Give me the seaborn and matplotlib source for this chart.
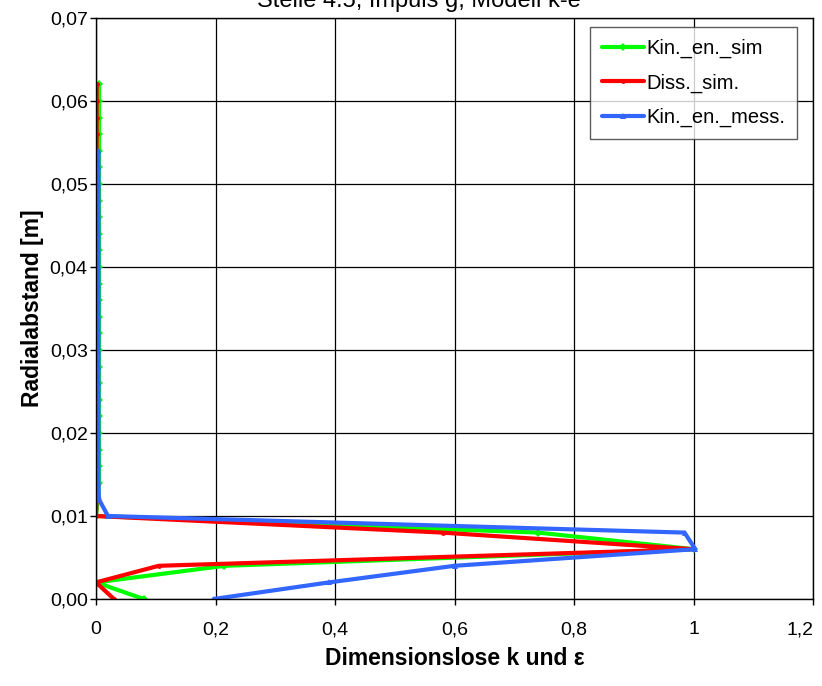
import numpy as np
import pandas as pd
import matplotlib
matplotlib.use("Agg")
import matplotlib.pyplot as plt
import seaborn as sns
from matplotlib.ticker import FuncFormatter, FixedLocator

# Radial positions [m]
r_sim = [0.000, 0.002, 0.004, 0.006, 0.008, 0.010, 0.012, 0.014, 0.016, 0.018,
         0.020, 0.022, 0.024, 0.026, 0.028, 0.030, 0.032, 0.034, 0.036, 0.038,
         0.040, 0.042, 0.044, 0.046, 0.048, 0.050, 0.052, 0.054, 0.056, 0.058,
         0.060, 0.062]
r_mess = [0.000, 0.002, 0.004, 0.006, 0.008, 0.010, 0.012, 0.014, 0.016, 0.018,
          0.020, 0.022, 0.024, 0.026, 0.028, 0.030, 0.032, 0.034, 0.036, 0.038,
          0.040, 0.042, 0.044, 0.046, 0.048, 0.050, 0.052, 0.054]

# Dimensionless k and epsilon
k_sim = [0.080, 0.000, 0.215, 1.000, 0.740, 0.000, 0.003, 0.005, 0.005, 0.005,
         0.005, 0.005, 0.005, 0.005, 0.005, 0.005, 0.005, 0.005, 0.005, 0.005,
         0.005, 0.005, 0.005, 0.005, 0.005, 0.005, 0.005, 0.005, 0.005, 0.005,
         0.005, 0.005]
eps_sim = [0.030, 0.000, 0.105, 1.000, 0.580, 0.000, 0.001, 0.001, 0.001, 0.001,
           0.001, 0.001, 0.001, 0.001, 0.001, 0.001, 0.001, 0.001, 0.001, 0.001,
           0.001, 0.001, 0.001, 0.001, 0.001, 0.001, 0.001, 0.001, 0.001, 0.001,
           0.001, 0.001]
k_mess = [0.197, 0.390, 0.600, 1.003, 0.985, 0.020, 0.005, 0.004, 0.004, 0.004,
          0.004, 0.004, 0.004, 0.004, 0.004, 0.004, 0.004, 0.004, 0.004, 0.004,
          0.004, 0.004, 0.004, 0.004, 0.004, 0.004, 0.004, 0.004]

labels = ["Kin._en._sim", "Diss._sim.", "Kin._en._mess."]
colors = ["#00ff00", "#ff0000", "#3366ff"]
markers = ["D", "o", "^"]

x_ticks = [0.0, 0.2, 0.4, 0.6, 0.8, 1.0, 1.2]
y_ticks = [0.00, 0.01, 0.02, 0.03, 0.04, 0.05, 0.06, 0.07]

sns.set_theme(style="white")
plt.rcParams["font.family"] = ["Liberation Sans", "DejaVu Sans"]
plt.rcParams["text.color"] = "black"
plt.rcParams["axes.labelcolor"] = "black"

fig = plt.figure(figsize=(8.22, 6.86), dpi=100)
ax = fig.add_axes([96 / 822, 1 - 599 / 686, (813 - 96) / 822, (599 - 18) / 686])

series = [(k_sim, r_sim), (eps_sim, r_sim), (k_mess, r_mess)]
for (xv, yv), lab, col, mk in zip(series, labels, colors, markers):
    df = pd.DataFrame({"wert": xv, "radius": yv})
    sns.lineplot(data=df, x="wert", y="radius", sort=False, estimator=None,
                 ax=ax, color=col, linewidth=3.0, marker=mk,
                 markersize=4 if mk != "o" else 3.5, markeredgewidth=0,
                 label=lab)

ax.set_xlim(0, 1.2)
ax.set_ylim(0, 0.07)
ax.xaxis.set_major_locator(FixedLocator(x_ticks))
ax.yaxis.set_major_locator(FixedLocator(y_ticks))
ax.xaxis.set_major_formatter(FuncFormatter(
    lambda v, p: ("%g" % round(v, 1)).replace(".", ",")))
ax.yaxis.set_major_formatter(FuncFormatter(
    lambda v, p: ("%.2f" % v).replace(".", ",")))
ax.grid(True, color="black", linewidth=0.9)
ax.set_axisbelow(True)
for s in ax.spines.values():
    s.set_color("black")
    s.set_linewidth(1.0)
ax.tick_params(axis="both", labelsize=14, colors="black", length=4,
               width=1, direction="out", bottom=True, left=True)
ax.tick_params(axis="x", pad=12)
ax.tick_params(axis="y", pad=2)

# keep the last x tick label inside the figure
fig.canvas.draw()
ax.xaxis.get_major_ticks()[len(x_ticks) - 1].label1.set_horizontalalignment("right")

ax.set_xlabel("Dimensionslose k und ε", fontsize=16.5, fontweight="bold",
              labelpad=6, color="black")
ax.set_ylabel("Radialabstand [m]", fontsize=16.5, fontweight="bold",
              labelpad=4, color="black")

leg = ax.legend(loc="upper right", bbox_to_anchor=(797 / 822, 1 - 27 / 686),
                bbox_transform=fig.transFigure, fontsize=14.5,
                frameon=True, fancybox=False, edgecolor="#333333",
                handlelength=2.1, handletextpad=0.1, labelspacing=0.75,
                borderpad=0.6, borderaxespad=0)
leg.get_frame().set_linewidth(1.0)
for t in leg.get_texts():
    t.set_color("black")

fig.text(0.51, 1 - 7 / 686, "Stelle 4.5, Impuls g, Modell k-e",
         ha="center", va="baseline", fontsize=17, color="black")

fig.savefig("out.png", dpi=100, facecolor="white")
